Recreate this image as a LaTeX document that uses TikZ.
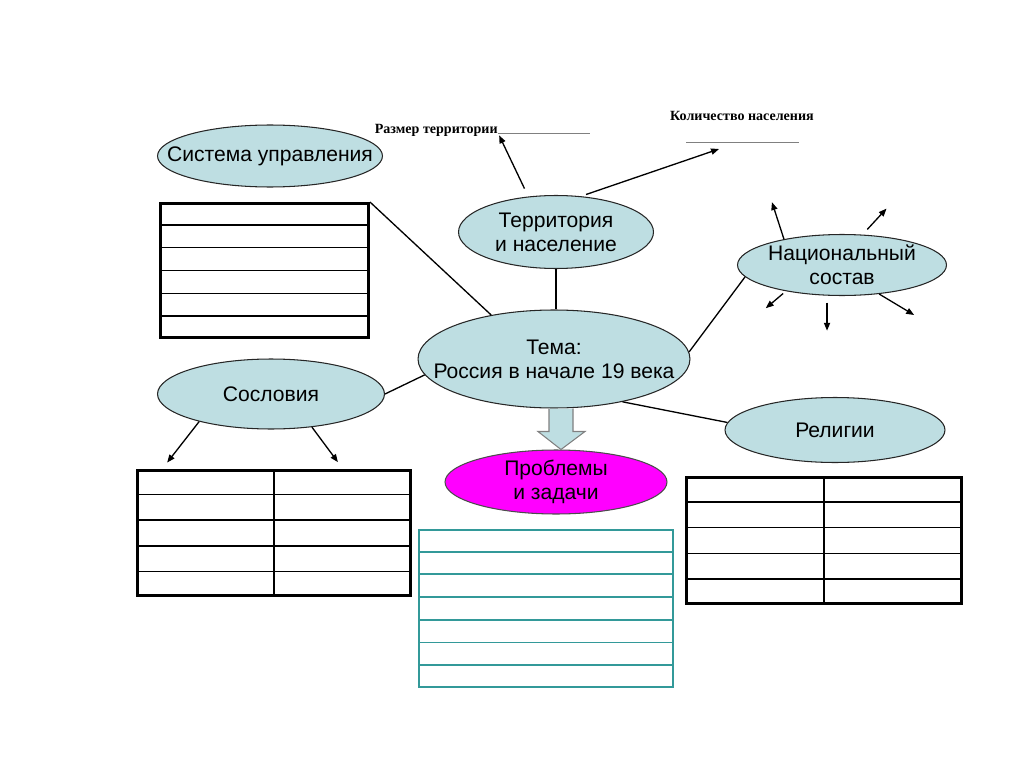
\documentclass[tikz,border=0pt]{standalone}
\usepackage{fontspec}
\setmainfont{Liberation Sans}
\newfontfamily\notefont{Liberation Serif}
\usetikzlibrary{shapes,arrows.meta,calc}
\definecolor{bubbleblue}{RGB}{190,222,226}
\definecolor{bubblepink}{RGB}{255,0,255}
\definecolor{tealline}{RGB}{51,153,153}
\tikzset{>={Triangle[length=4.5pt,width=3.5pt]},x=0.02cm,y=-0.02cm,
  bubble/.style={ellipse,draw=black!85,line width=0.6pt,fill=bubbleblue,inner xsep=-1.5cm,inner ysep=-0.2cm,align=center,font=\fontsize{12}{13.5}\selectfont},
  grid/.style={draw,line width=1.7pt,inner sep=0pt,anchor=north west},
  rowline/.style={line width=0.9pt},
  link/.style={line width=0.75pt},
  note/.style={font=\notefont\bfseries\fontsize{8}{9}\selectfont,inner sep=0pt},
  fatarrow/.style={fill=bubbleblue,draw=gray,line width=0.6pt}}

\begin{document}
\begin{tikzpicture}
    \useasboundingbox (0,0) rectangle (1024,767);
    % ellipses
    \node[bubble,minimum width=4.5cm,minimum height=1.24cm] (upr) at (270,156) {Система управления};
    \node[bubble,minimum width=3.9cm,minimum height=1.46cm] (terr) at (556,232) {Территория\\и население};
    \node[bubble,minimum width=5.44cm,minimum height=1.96cm] (tema) at (554,359) {Тема:\\Россия в начале 19 века};
    \node[bubble,minimum width=4.18cm,minimum height=1.22cm] (nat) at (842,265) {Национальный\\состав};
    \node[bubble,minimum width=4.54cm,minimum height=1.4cm] (sosl) at (271,394) {Сословия};
    \node[bubble,minimum width=4.4cm,minimum height=1.3cm] (rel) at (835,430) {Религии};
    \node[bubble,fill=bubblepink,draw=black!70,minimum width=4.44cm,minimum height=1.28cm] (prob) at (556,482) {Проблемы\\и задачи};
    % notes
    \node[note,anchor=base east] (razm) at (498,133) {Размер территории};
    \draw[gray,line width=0.5pt] (razm.base east) -- ++(92,0);
    \node[note] (kol) at (742,116) {Количество населения};
    \coordinate (kolline) at (686,142);
    \draw[gray,line width=0.5pt] (kolline) -- ++(113,0);
    % tables
    \node[grid,minimum width=4.16cm,minimum height=2.68cm] (tab1) at (159,202) {};
    \foreach \i in {1,...,5}
        \draw[rowline] ($(tab1.north west)!\i/6!(tab1.south west)$) -- ($(tab1.north east)!\i/6!(tab1.south east)$);
    \node[grid,minimum width=5.46cm,minimum height=2.5cm] (tab2) at (136,469) {};
    \node[grid,minimum width=5.5cm,minimum height=2.52cm] (tab3) at (685,476) {};
    \foreach \t in {tab2,tab3} {
        \foreach \i in {1,...,4}
            \draw[rowline] ($(\t.north west)!\i/5!(\t.south west)$) -- ($(\t.north east)!\i/5!(\t.south east)$);
        \draw[rowline] (\t.north) -- (\t.south);
    }
    \node[grid,draw=tealline,line width=1.1pt,minimum width=5.08cm,minimum height=3.14cm] (tab4) at (418,529) {};
    \foreach \i in {1,...,6}
        \draw[tealline,line width=1.1pt] ($(tab4.north west)!\i/7!(tab4.south west)$) -- ($(tab4.north east)!\i/7!(tab4.south east)$);
    % links
    \draw[link] (tab1.north east) -- (tema.145);
    \draw[link] (terr.south) -- (terr.south |- tema.north);
    \draw[link] (tema.3) -- (nat.187);
    \draw[link] (sosl.east) -- (tema.187);
    \draw[link] (tema.328) -- (rel.176);
    \draw[link,->,shorten <=5pt,shorten >=1.5pt] (terr.128) -- (razm.base east);
    \draw[link,->,shorten <=3pt] (terr.55) -- ([shift={(33,7)}]kolline);
    \foreach \a/\dx/\dy/\gap in {156/-12/-37/0pt,56/24/-26/4pt,205/-20/17/2pt,244/0/35/4pt,322/35/21/0pt}
        \draw[link,->,shorten <=\gap] (nat.\a) -- ++(\dx,\dy);
    \draw[link,->] (sosl.201) -- ++(-32,41);
    \draw[link,->] (sosl.321.5) -- ++(26,35);
    \draw[fatarrow] ([shift={(-5,0)}]tema.south) -- ++(0,23) -- ++(-11,0) -- ++(23,18) -- ++(24,-18) -- ++(-12,0) -- ++(0,-23);
\end{tikzpicture}
\end{document}
